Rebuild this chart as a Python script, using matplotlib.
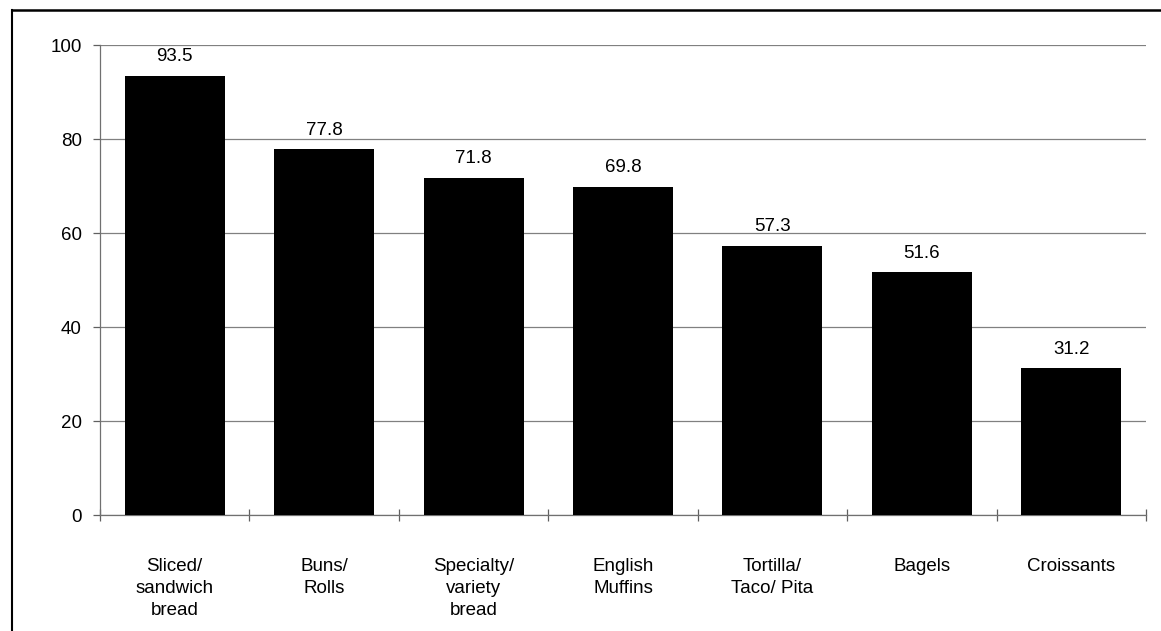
import matplotlib.pyplot as plt
from matplotlib.lines import Line2D

categories = ["Sliced/\nsandwich\nbread", "Buns/\nRolls", "Specialty/\nvariety\nbread",
              "English\nMuffins", "Tortilla/\nTaco/ Pita", "Bagels", "Croissants"]
values = [93.5, 77.8, 71.8, 69.8, 57.3, 51.6, 31.2]
yticks = [0, 20, 40, 60, 80, 100]

plt.rcParams['font.family'] = ['Liberation Sans', 'DejaVu Sans']
FS = 13.5

fig = plt.figure(figsize=(11.61, 6.31), dpi=100)
ax = fig.add_axes([100 / 1161, 116 / 631, 1046 / 1161, 470 / 631])

x = list(range(len(categories)))
ax.bar(x, values, width=0.67, color='black', zorder=3)
for xi, v in zip(x, values):
    ax.text(xi, v + 2.3, f"{v:.1f}", ha='center', va='bottom', fontsize=FS, zorder=4)

ax.set_xlim(-0.5, len(categories) - 0.5)
ax.set_ylim(0, 100)
ax.set_yticks(yticks)
ax.set_yticklabels([str(t) for t in yticks], fontsize=FS)
ax.yaxis.grid(True, color='#808080', linewidth=0.9, zorder=0)
ax.tick_params(axis='y', length=5, width=0.9, color='#606060', pad=8)

# Category labels centred under bars, tick marks on the category boundaries
ax.set_xticks([i - 0.5 for i in range(len(categories) + 1)])
ax.set_xticklabels([])
ax.tick_params(axis='x', length=8, width=0.9, color='#606060', direction='inout')
for xi, lab in zip(x, categories):
    ax.text(xi, -9.2, lab, ha='center', va='top', fontsize=FS, linespacing=1.38)

for side in ('top', 'right'):
    ax.spines[side].set_visible(False)
for side in ('left', 'bottom'):
    ax.spines[side].set_color('#707070')
    ax.spines[side].set_linewidth(0.9)

# Frame lines around the chart area
fig.add_artist(Line2D([12 / 1161, 1.0], [1 - 10 / 631, 1 - 10 / 631], color='black', linewidth=1.8))
fig.add_artist(Line2D([12 / 1161, 12 / 1161], [0, 1 - 10 / 631], color='black', linewidth=1.5))

fig.savefig("out.png", dpi=100, facecolor='white')
